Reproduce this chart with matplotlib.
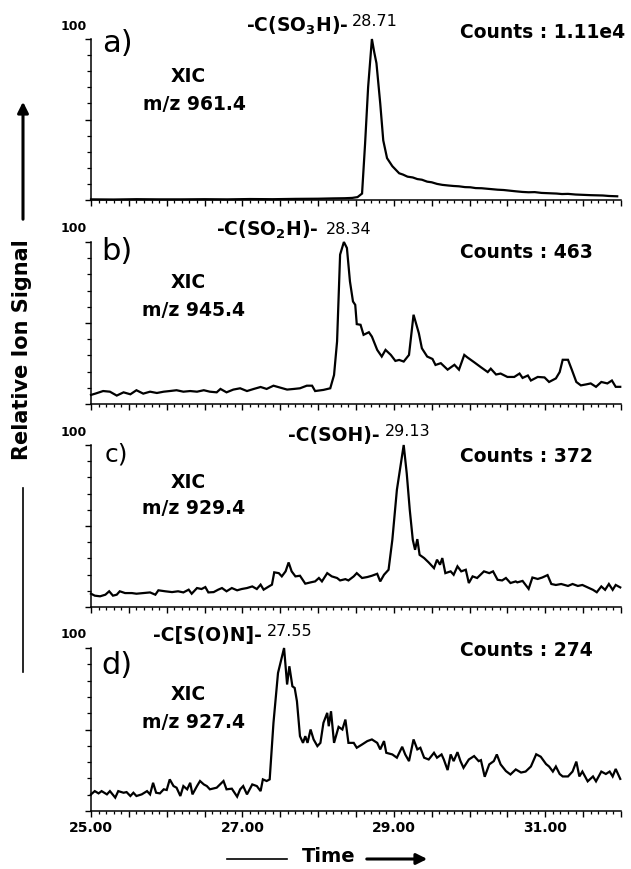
import matplotlib
matplotlib.use("Agg")
import matplotlib.pyplot as plt
from matplotlib.lines import Line2D
from matplotlib.patches import FancyArrowPatch
from matplotlib.ticker import MultipleLocator, FuncFormatter

# --- data (time in min, % relative signal) ---
time_a = [25.00, 25.30, 25.60, 25.90, 26.20, 26.50, 26.80, 27.10, 27.40, 27.70, 28.00, 28.20,
          28.35, 28.45, 28.52, 28.58, 28.62, 28.66, 28.71, 28.74, 28.77, 28.82, 28.86, 28.91,
          28.98, 29.07, 29.12, 29.18, 29.25, 29.31, 29.37, 29.44, 29.50, 29.57, 29.64, 29.72,
          29.79, 29.86, 29.94, 30.01, 30.08, 30.16, 30.23, 30.30, 30.37, 30.45, 30.53, 30.61,
          30.70, 30.78, 30.86, 30.95, 31.05, 31.15, 31.22, 31.30, 31.40, 31.50, 31.60, 31.68,
          31.76, 31.84, 31.95]
sig_a = [0.4, 0.3, 0.5, 0.4, 0.4, 0.5, 0.4, 0.6, 0.5, 0.7, 0.8, 1.0,
         1.1, 1.3, 1.8, 4.0, 35.0, 70.0, 100.0, 92.0, 85.0, 60.0, 37.0, 26.0,
         21.0, 16.6, 15.8, 14.5, 14.0, 13.0, 12.6, 11.4, 11.0, 10.0, 9.4, 9.0,
         8.7, 8.5, 8.0, 7.9, 7.4, 7.3, 7.0, 6.7, 6.4, 6.2, 5.8, 5.4,
         5.0, 4.8, 4.9, 4.4, 4.2, 4.0, 3.7, 3.8, 3.4, 3.2, 3.0, 2.9,
         2.8, 2.5, 2.3]

time_b = [25.00, 25.07, 25.16, 25.25, 25.34, 25.43, 25.52, 25.60, 25.69, 25.78, 25.87, 25.96,
          26.04, 26.13, 26.22, 26.31, 26.40, 26.49, 26.57, 26.66, 26.71, 26.79, 26.88, 26.97,
          27.06, 27.15, 27.24, 27.32, 27.41, 27.50, 27.59, 27.68, 27.76, 27.85, 27.92, 27.96,
          28.07, 28.16, 28.21, 28.25, 28.29, 28.34, 28.38, 28.42, 28.46, 28.49, 28.51, 28.56,
          28.60, 28.67, 28.71, 28.78, 28.84, 28.89, 28.96, 29.02, 29.07, 29.13, 29.20, 29.26,
          29.33, 29.37, 29.44, 29.51, 29.55, 29.62, 29.71, 29.80, 29.86, 29.93, 29.97, 30.06,
          30.15, 30.24, 30.28, 30.35, 30.41, 30.50, 30.59, 30.66, 30.70, 30.77, 30.81, 30.90,
          30.99, 31.05, 31.14, 31.19, 31.23, 31.30, 31.35, 31.41, 31.47, 31.54, 31.60, 31.67,
          31.74, 31.82, 31.88, 31.93, 31.99]
sig_b = [5.6, 6.6, 8.0, 7.6, 5.2, 7.2, 6.0, 8.5, 6.4, 7.6, 6.8, 7.6,
         8.0, 8.5, 7.6, 8.0, 7.6, 8.5, 7.6, 7.2, 9.3, 7.2, 8.9, 9.7,
         8.0, 9.3, 10.5, 9.3, 11.3, 10.1, 8.9, 9.3, 9.7, 11.3, 11.3, 8.0,
         8.7, 9.7, 17.9, 38.6, 92.2, 100.0, 96.3, 75.7, 63.3, 61.2, 49.3, 48.9,
         42.7, 44.3, 41.6, 33.4, 29.3, 33.4, 30.3, 26.6, 27.2, 26.2, 30.3, 55.1,
         43.7, 34.4, 29.3, 27.8, 24.1, 25.2, 21.2, 24.2, 21.2, 30.3, 28.8, 25.8,
         22.7, 19.7, 21.8, 18.2, 18.8, 16.7, 16.7, 18.8, 16.1, 17.6, 14.5, 16.7,
         16.4, 13.6, 15.8, 19.7, 27.3, 27.3, 21.2, 13.6, 11.5, 12.1, 12.7, 10.6,
         13.6, 12.7, 14.5, 10.6, 10.6]

time_c = [25.00, 25.05, 25.12, 25.19, 25.24, 25.29, 25.34, 25.38, 25.45, 25.54, 25.60, 25.69,
          25.78, 25.85, 25.89, 25.98, 26.07, 26.15, 26.22, 26.29, 26.33, 26.40, 26.46, 26.51,
          26.55, 26.62, 26.68, 26.73, 26.79, 26.86, 26.93, 26.99, 27.06, 27.13, 27.19, 27.24,
          27.28, 27.35, 27.39, 27.42, 27.48, 27.52, 27.57, 27.61, 27.65, 27.70, 27.76, 27.83,
          27.90, 27.96, 28.01, 28.05, 28.12, 28.18, 28.25, 28.29, 28.36, 28.40, 28.47, 28.51,
          28.58, 28.65, 28.71, 28.78, 28.82, 28.87, 28.93, 28.98, 29.04, 29.13, 29.17, 29.21,
          29.25, 29.28, 29.31, 29.34, 29.40, 29.46, 29.53, 29.57, 29.61, 29.64, 29.68, 29.75,
          29.79, 29.84, 29.89, 29.95, 29.99, 30.04, 30.10, 30.19, 30.26, 30.31, 30.37, 30.43,
          30.48, 30.54, 30.61, 30.63, 30.70, 30.78, 30.83, 30.90, 30.96, 31.03, 31.08, 31.14,
          31.21, 31.30, 31.36, 31.43, 31.49, 31.56, 31.63, 31.68, 31.74, 31.79, 31.84, 31.89,
          31.93, 31.99]
sig_c = [8.2, 7.0, 6.6, 7.6, 9.7, 7.0, 7.6, 9.7, 8.6, 8.6, 8.2, 8.6,
         9.0, 7.6, 10.3, 9.7, 9.2, 9.7, 9.0, 10.7, 8.2, 11.7, 11.1, 12.3,
         9.0, 9.2, 10.7, 11.7, 9.7, 11.7, 10.3, 11.1, 11.7, 12.7, 11.1, 13.8,
         10.7, 12.7, 13.8, 21.4, 20.9, 18.9, 22.0, 27.5, 22.0, 18.9, 19.3, 14.4,
         15.2, 15.8, 17.9, 15.8, 20.9, 18.9, 17.9, 16.4, 17.2, 16.4, 18.9, 20.9,
         17.9, 18.5, 19.3, 20.5, 15.8, 19.9, 23.0, 41.5, 72.3, 100.0, 82.5, 60.0,
         41.5, 35.3, 41.9, 32.2, 30.2, 27.5, 24.0, 29.2, 26.1, 30.2, 20.9, 22.0,
         19.9, 25.1, 22.0, 23.0, 14.8, 18.9, 17.9, 22.0, 20.9, 22.0, 16.8, 16.4,
         17.9, 14.8, 15.8, 15.2, 16.1, 11.2, 18.2, 17.3, 18.2, 19.7, 14.2, 13.6,
         14.2, 13.0, 14.2, 13.0, 13.6, 12.1, 10.6, 9.1, 12.7, 10.6, 14.2, 10.6,
         13.6, 12.1]

time_d = [25.00, 25.05, 25.10, 25.14, 25.21, 25.25, 25.32, 25.36, 25.43, 25.47, 25.52, 25.56,
          25.60, 25.67, 25.74, 25.78, 25.82, 25.86, 25.91, 25.96, 26.00, 26.04, 26.09, 26.13,
          26.18, 26.22, 26.27, 26.31, 26.34, 26.40, 26.44, 26.49, 26.53, 26.57, 26.66, 26.75,
          26.79, 26.86, 26.93, 26.97, 27.01, 27.06, 27.13, 27.19, 27.24, 27.27, 27.32, 27.36,
          27.41, 27.47, 27.55, 27.59, 27.62, 27.66, 27.69, 27.72, 27.76, 27.80, 27.83, 27.86,
          27.90, 27.94, 27.99, 28.03, 28.07, 28.12, 28.14, 28.17, 28.21, 28.27, 28.32, 28.36,
          28.40, 28.47, 28.51, 28.58, 28.65, 28.71, 28.78, 28.82, 28.87, 28.90, 28.98, 29.04,
          29.11, 29.15, 29.20, 29.26, 29.31, 29.35, 29.40, 29.46, 29.53, 29.57, 29.63, 29.66,
          29.71, 29.75, 29.79, 29.84, 29.88, 29.92, 29.99, 30.06, 30.12, 30.15, 30.20, 30.26,
          30.32, 30.36, 30.41, 30.48, 30.54, 30.61, 30.68, 30.74, 30.81, 30.88, 30.94, 31.01,
          31.05, 31.10, 31.14, 31.19, 31.23, 31.30, 31.36, 31.41, 31.45, 31.49, 31.56, 31.63,
          31.67, 31.74, 31.80, 31.85, 31.89, 31.93, 31.99]
sig_d = [10.2, 12.2, 10.8, 12.2, 10.2, 12.2, 8.2, 12.2, 11.2, 11.6, 9.2, 11.2,
         9.2, 10.2, 12.2, 10.2, 17.3, 11.2, 10.8, 13.3, 12.9, 19.4, 15.3, 14.3,
         9.2, 15.3, 13.3, 17.3, 10.2, 15.3, 18.4, 16.3, 15.3, 13.3, 14.3, 18.4,
         13.3, 13.7, 8.8, 13.3, 15.3, 10.2, 16.3, 15.3, 12.2, 19.4, 18.4, 19.4,
         54.1, 84.7, 100.0, 77.6, 88.8, 76.5, 75.5, 67.3, 45.9, 41.8, 45.9, 41.8,
         50.0, 43.9, 39.8, 41.8, 54.1, 60.2, 52.0, 61.2, 41.8, 51.6, 50.0, 56.1,
         41.8, 41.8, 38.8, 40.8, 42.9, 43.9, 41.8, 37.8, 42.9, 35.7, 34.7, 32.7,
         39.4, 34.7, 30.6, 43.9, 37.8, 38.8, 32.7, 31.6, 35.7, 32.7, 34.7, 31.6,
         25.1, 34.7, 30.6, 36.1, 30.6, 26.5, 31.6, 33.7, 30.6, 31.2, 21.0, 28.6,
         30.6, 34.7, 28.6, 24.5, 22.4, 25.5, 23.6, 24.2, 27.3, 34.8, 33.3, 28.8,
         27.3, 24.2, 27.3, 22.7, 21.2, 21.2, 24.2, 30.3, 21.2, 24.2, 18.2, 21.2,
         18.2, 24.2, 22.7, 24.2, 21.2, 25.8, 19.7]

panel_tags = ["a)", "b)", "c)", "d)"]
mz_labels = ["m/z 961.4", "m/z 945.4", "m/z 929.4", "m/z 927.4"]
species = [r"-C(SO$_\mathbf{3}$H)-", r"-C(SO$_\mathbf{2}$H)-", "-C(SOH)-", "-C[S(O)N]-"]
peak_labels = ["28.71", "28.34", "29.13", "27.55"]
counts = ["Counts : 1.11e4", "Counts : 463", "Counts : 372", "Counts : 274"]
xtick_vals = [25.0, 27.0, 29.0, 31.0]

times = [time_a, time_b, time_c, time_d]
signals = [sig_a, sig_b, sig_c, sig_d]

W, H = 631, 869
fig = plt.figure(figsize=(W / 100, H / 100), dpi=100)


def fx(x):
    return x / W


def fy(y):
    return 1 - y / H


# axes boxes in pixels: (top, bottom)
boxes = [(39, 200), (242, 404), (445, 607), (648, 811)]
x_left, x_right = 91, 621

# label positions in pixels
tag_pos = [(117, 43), (117, 252), (116, 454), (117, 665)]
tag_size = [22, 22, 18, 22]
xic_y = [77, 283, 482, 695]
mz_y = [104, 310, 509, 722]
species_pos = [(348, 26), (318, 230), (380, 435), (262, 635)]
peak_pos = [(375, 22), (349, 229), (408, 431), (290, 632)]
counts_y = [33, 252, 457, 650]

for i in range(4):
    top, bot = boxes[i]
    ax = fig.add_axes([fx(x_left), fy(bot), (x_right - x_left) / W, (bot - top) / H])
    ax.plot(times[i], signals[i], color="black", lw=1.6, clip_on=False, solid_joinstyle="miter")
    ax.set_xlim(25, 32)
    ax.set_ylim(0, 100)
    for s in ["top", "right"]:
        ax.spines[s].set_visible(False)
    for s in ["left", "bottom"]:
        ax.spines[s].set_linewidth(1.1)
    ax.xaxis.set_major_locator(MultipleLocator(0.5))
    ax.xaxis.set_minor_locator(MultipleLocator(0.1))
    ax.yaxis.set_major_locator(MultipleLocator(50))
    ax.yaxis.set_minor_locator(MultipleLocator(10))
    ax.tick_params(axis="x", which="major", length=4, width=1.0, direction="out")
    ax.tick_params(axis="x", which="minor", length=2.2, width=0.9, direction="out")
    ax.tick_params(axis="y", which="major", length=4.5, width=1.0, direction="out")
    ax.tick_params(axis="y", which="minor", length=3, width=0.9, direction="out")
    ax.set_yticklabels([])
    if i == 3:
        ax.xaxis.set_major_formatter(FuncFormatter(
            lambda v, p: "%.2f" % v if any(abs(v - t) < 1e-6 for t in xtick_vals) else ""))
        for lab in ax.get_xticklabels():
            lab.set_fontweight("bold")
            lab.set_fontsize(10)
        ax.tick_params(axis="x", which="major", pad=3)
    else:
        ax.set_xticklabels([])

    # "100" marker above the y axis
    fig.text(fx(87), fy(top - 13), "100", ha="right", va="center", fontsize=9, fontweight="bold")
    fig.text(fx(tag_pos[i][0]), fy(tag_pos[i][1]), panel_tags[i], ha="center", va="center",
             fontsize=tag_size[i])
    fig.text(fx(188), fy(xic_y[i]), "XIC", ha="center", va="center", fontsize=13.5, fontweight="bold")
    fig.text(fx(194), fy(mz_y[i]), mz_labels[i], ha="center", va="center", fontsize=13.5,
             fontweight="bold")
    fig.text(fx(species_pos[i][0]), fy(species_pos[i][1]), species[i], ha="right", va="center",
             fontsize=13.5, fontweight="bold")
    fig.text(fx(peak_pos[i][0]), fy(peak_pos[i][1]), peak_labels[i], ha="center", va="center",
             fontsize=11.5)
    fig.text(fx(460), fy(counts_y[i]), counts[i], ha="left", va="center", fontsize=13.5,
             fontweight="bold")

# y axis title with arrow
fig.text(fx(22), fy(350), "Relative Ion Signal", rotation=90, ha="center", va="center",
         fontsize=15, fontweight="bold")
fig.add_artist(FancyArrowPatch((fx(23), fy(222)), (fx(23), fy(99)), transform=fig.transFigure,
                               arrowstyle="-|>", mutation_scale=16, lw=2.2, color="black"))
fig.add_artist(Line2D([fx(23), fx(23)], [fy(488), fy(672)], transform=fig.transFigure,
                      color="black", lw=1.2))

# x axis title with arrow
fig.text(fx(329), fy(857), "Time", ha="center", va="center", fontsize=14, fontweight="bold")
fig.add_artist(Line2D([fx(227), fx(287)], [fy(859), fy(859)], transform=fig.transFigure,
                      color="black", lw=1.2))
fig.add_artist(FancyArrowPatch((fx(364), fy(859)), (fx(430), fy(859)), transform=fig.transFigure,
                               arrowstyle="-|>", mutation_scale=16, lw=2.2, color="black"))

fig.savefig("out.png", dpi=100)
